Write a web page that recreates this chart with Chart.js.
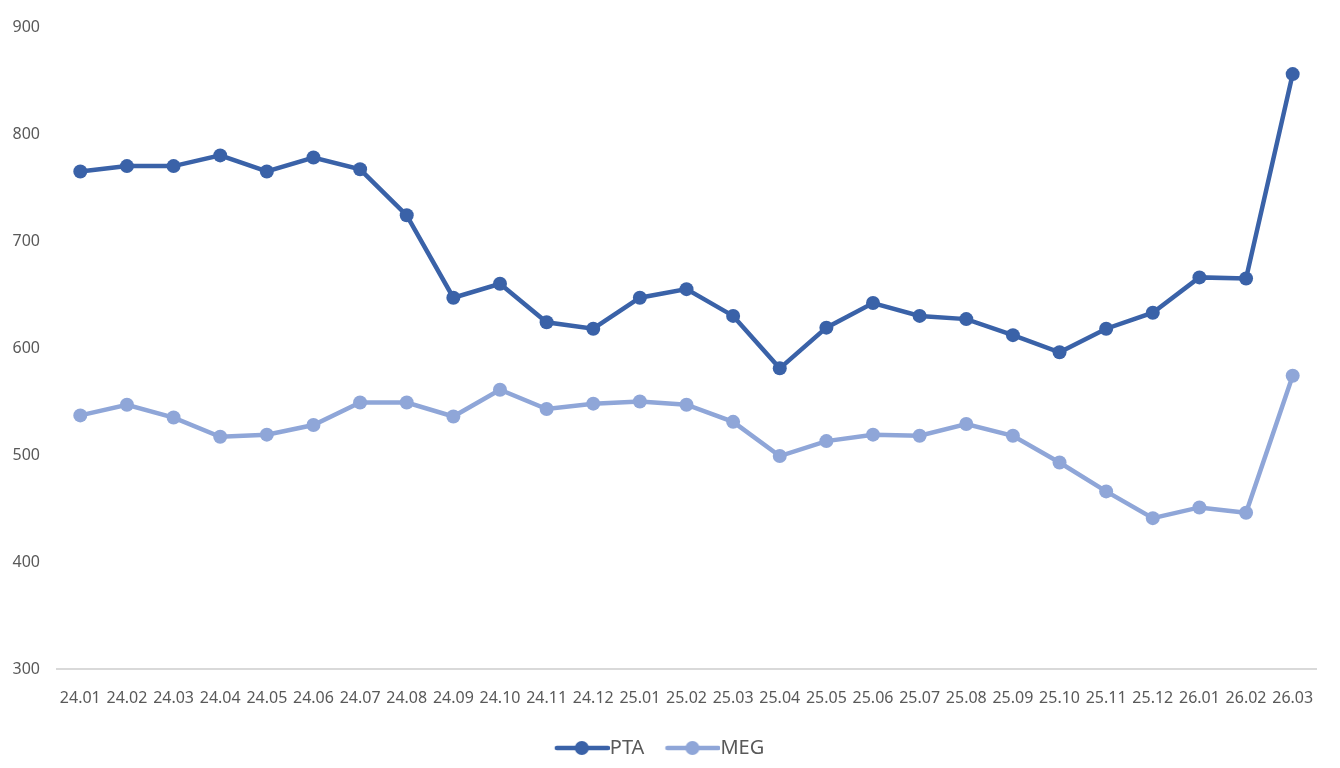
<!DOCTYPE html>
<html>
<head>
<meta charset="utf-8">
<script src="https://cdn.jsdelivr.net/npm/chart.js@4"></script>
<style>
  html, body { margin: 0; padding: 0; background: #fff; }
  #wrap { width: 1340px; height: 768px; }
</style>
</head>
<body>
<div id="wrap"><canvas id="myChart" width="1340" height="768"></canvas></div>
<script>
const months = ["24.01","24.02","24.03","24.04","24.05","24.06","24.07","24.08","24.09","24.10","24.11","24.12",
    "25.01","25.02","25.03","25.04","25.05","25.06","25.07","25.08","25.09","25.10","25.11","25.12",
    "26.01","26.02","26.03"];
const ptaValues = [765, 770, 770, 780, 765, 778, 767, 724, 647, 660, 624, 618,
    647, 655, 630, 581, 619, 642, 630, 627, 612, 596, 618, 633, 666, 665, 856];
const megValues = [537, 547, 535, 517, 519, 528, 549, 549, 536, 561, 543, 548,
    550, 547, 531, 499, 513, 519, 518, 529, 518, 493, 466, 441, 451, 446, 574];
const yTicks = [300, 400, 500, 600, 700, 800, 900];

const ptaColor = '#3A62A8';
const megColor = '#8FA6D8';
const fontName = "'Noto Sans', sans-serif";

// legend marker: a short line with a dot, like the excel one
// the image is wider than the legend box so the line runs up to the text
function legendMark(color) {
    const c = document.createElement('canvas');
    c.width = 68;
    c.height = 16;
    const ctx = c.getContext('2d');
    ctx.strokeStyle = color;
    ctx.lineWidth = 4.5;
    ctx.lineCap = 'round';
    ctx.beginPath();
    ctx.moveTo(15, 8);
    ctx.lineTo(66, 8);
    ctx.stroke();
    ctx.fillStyle = color;
    ctx.beginPath();
    ctx.arc(40, 8, 7, 0, Math.PI * 2);
    ctx.fill();
    return c;
}

const data = {
    labels: months,
    datasets: [{
        label: 'PTA',
        data: ptaValues,
        borderColor: ptaColor,
        backgroundColor: ptaColor,
        borderWidth: 4.5,
        pointRadius: 7,
        pointBorderWidth: 0,
        pointStyle: 'circle',
        tension: 0
    }, {
        label: 'MEG',
        data: megValues,
        borderColor: megColor,
        backgroundColor: megColor,
        borderWidth: 4.5,
        pointRadius: 7,
        pointBorderWidth: 0,
        pointStyle: 'circle',
        tension: 0
    }]
};

const marks = [legendMark(ptaColor), legendMark(megColor)];

const config = {
    type: 'line',
    data,
    options: {
        responsive: false,
        animation: false,
        layout: { padding: { left: 0, right: 24, top: 27, bottom: 0 } },
        plugins: {
            tooltip: { enabled: false },
            legend: {
                position: 'bottom',
                labels: {
                    color: '#595959',
                    font: { family: fontName, size: 20 },
                    padding: 18,
                    usePointStyle: true,
                    pointStyleWidth: 48,
                    generateLabels(chart) {
                        return chart.data.datasets.map((ds, i) => ({
                            text: ds.label,
                            fontColor: '#595959',
                            pointStyle: marks[i],
                            fillStyle: ds.borderColor,
                            strokeStyle: ds.borderColor,
                            lineWidth: 0,
                            hidden: false,
                            datasetIndex: i
                        }));
                    }
                }
            }
        },
        scales: {
            x: {
                offset: true,
                grid: { display: false, drawTicks: false },
                border: { display: true, color: '#D9D9D9', width: 2 },
                ticks: {
                    color: '#595959',
                    font: { family: fontName, size: 16 },
                    padding: 20,
                    autoSkip: false,
                    maxRotation: 0,
                    minRotation: 0
                },
                afterFit(scale) { scale.height = 51; }
            },
            y: {
                min: 300,
                max: 900,
                afterBuildTicks(scale) { scale.ticks = yTicks.map(v => ({ value: v })); },
                grid: { display: false, drawTicks: false },
                border: { display: false },
                ticks: {
                    color: '#595959',
                    font: { family: fontName, size: 16 },
                    padding: 17
                },
                afterFit(scale) { scale.width = 57; }
            }
        }
    }
};

const myChart = new Chart(document.getElementById('myChart'), config);
</script>
</body>
</html>
